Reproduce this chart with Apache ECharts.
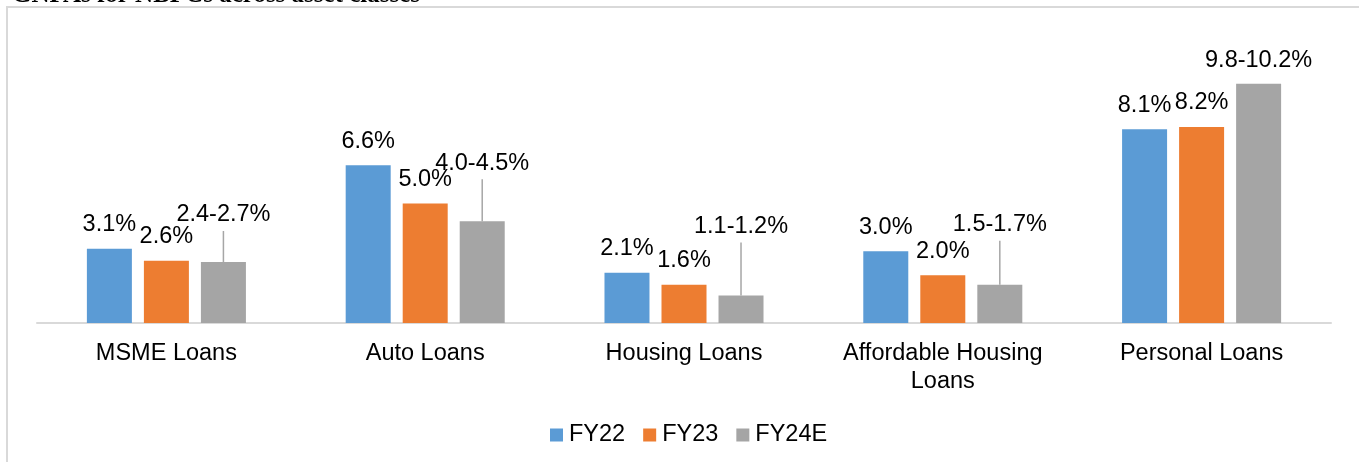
<!DOCTYPE html>
<html>
<head>
<meta charset="utf-8">
<title>GNPAs for NBFCs across asset classes</title>
<script src="https://cdn.jsdelivr.net/npm/echarts@6/dist/echarts.min.js"></script>
<style>
  html, body { margin: 0; padding: 0; background: #fff; }
  #chart { width: 1359px; height: 462px; }
</style>
</head>
<body>
<div id="chart"></div>
<script>
// Gross NPA ratios (%) by asset class
const categories = ['MSME Loans', 'Auto Loans', 'Housing Loans', 'Affordable Housing\nLoans', 'Personal Loans'];
const seriesNames = ['FY22', 'FY23', 'FY24E'];
const fy22 = [3.1, 6.6, 2.1, 3.0, 8.1];
const fy23 = [2.6, 5.0, 1.6, 2.0, 8.2];
// FY24 estimates are ranges: low and high ends
const fy24Low = [2.4, 4.0, 1.1, 1.5, 9.8];
const fy24High = [2.7, 4.5, 1.2, 1.7, 10.2];

// Length (px) of the leader line under each FY24E range label
const leaderLen = [31, 42, 53, 44, 0];

const COLORS = ['#5B9BD5', '#ED7D31', '#A5A5A5'];
const FONT = 'Liberation Sans, Arial, sans-serif';
const FS = 23.5;

const fy24Mid = fy24Low.map((lo, i) => +((lo + fy24High[i]) / 2).toFixed(3));
const rangeText = fy24Low.map((lo, i) => lo.toFixed(1) + '-' + fy24High[i].toFixed(1) + '%');

const rich = { t: { fontSize: FS, fontFamily: FONT, color: '#000', lineHeight: 32 } };
leaderLen.forEach((h, i) => {
  rich['l' + i] = h > 0
    ? { width: 1.5, height: h, lineHeight: h, backgroundColor: '#A6A6A6' }
    : { width: 1, height: 7, lineHeight: 7 };
});

const pctLabel = {
  show: true,
  position: 'top',
  distance: 12,
  fontSize: FS,
  fontFamily: FONT,
  color: '#000',
  lineHeight: 24,
  formatter: p => p.value.toFixed(1) + '%'
};

const chart = echarts.init(document.getElementById('chart'), null, { renderer: 'canvas' });

chart.setOption({
  animation: false,
  backgroundColor: '#fff',
  graphic: [
    {
      type: 'rect',
      shape: { x: 7, y: 7, width: 1400, height: 500 },
      style: { fill: 'none', stroke: '#D9D9D9', lineWidth: 2 },
      silent: true
    },
    {
      type: 'text',
      x: 12,
      y: -4,
      style: {
        text: 'GNPAs for NBFCs across asset classes',
        font: 'bold 25px "Liberation Serif", "Times New Roman", serif',
        fill: '#000',
        verticalAlign: 'middle'
      },
      silent: true
    }
  ],
  grid: { left: 37, right: 28, top: 36, bottom: 139 },
  legend: {
    data: seriesNames,
    left: 545,
    top: 418,
    icon: 'rect',
    itemWidth: 13,
    itemHeight: 13,
    itemGap: 18,
    textStyle: { fontSize: FS, fontFamily: FONT, color: '#000', padding: [0, 0, 0, 1] }
  },
  xAxis: {
    type: 'category',
    data: categories,
    axisLine: { lineStyle: { color: '#D9D9D9', width: 2 } },
    axisTick: { show: false },
    axisLabel: {
      fontSize: FS,
      fontFamily: FONT,
      color: '#000',
      lineHeight: 28,
      margin: 17,
      interval: 0
    }
  },
  yAxis: {
    type: 'value',
    min: 0,
    max: 12,
    show: false,
    splitLine: { show: false }
  },
  series: [
    {
      name: 'FY22',
      type: 'bar',
      data: fy22,
      barWidth: 45,
      barGap: '26.7%',
      itemStyle: { color: COLORS[0] },
      label: pctLabel
    },
    {
      name: 'FY23',
      type: 'bar',
      data: fy23,
      barWidth: 45,
      barGap: '26.7%',
      itemStyle: { color: COLORS[1] },
      label: pctLabel
    },
    {
      name: 'FY24E',
      type: 'bar',
      data: fy24Mid,
      barWidth: 45,
      barGap: '26.7%',
      itemStyle: { color: COLORS[2] },
      label: {
        show: true,
        position: 'top',
        distance: 0,
        rich: rich,
        formatter: p => '{t|' + rangeText[p.dataIndex] + '}\n{l' + p.dataIndex + '|}'
      }
    }
  ]
});
</script>
</body>
</html>
